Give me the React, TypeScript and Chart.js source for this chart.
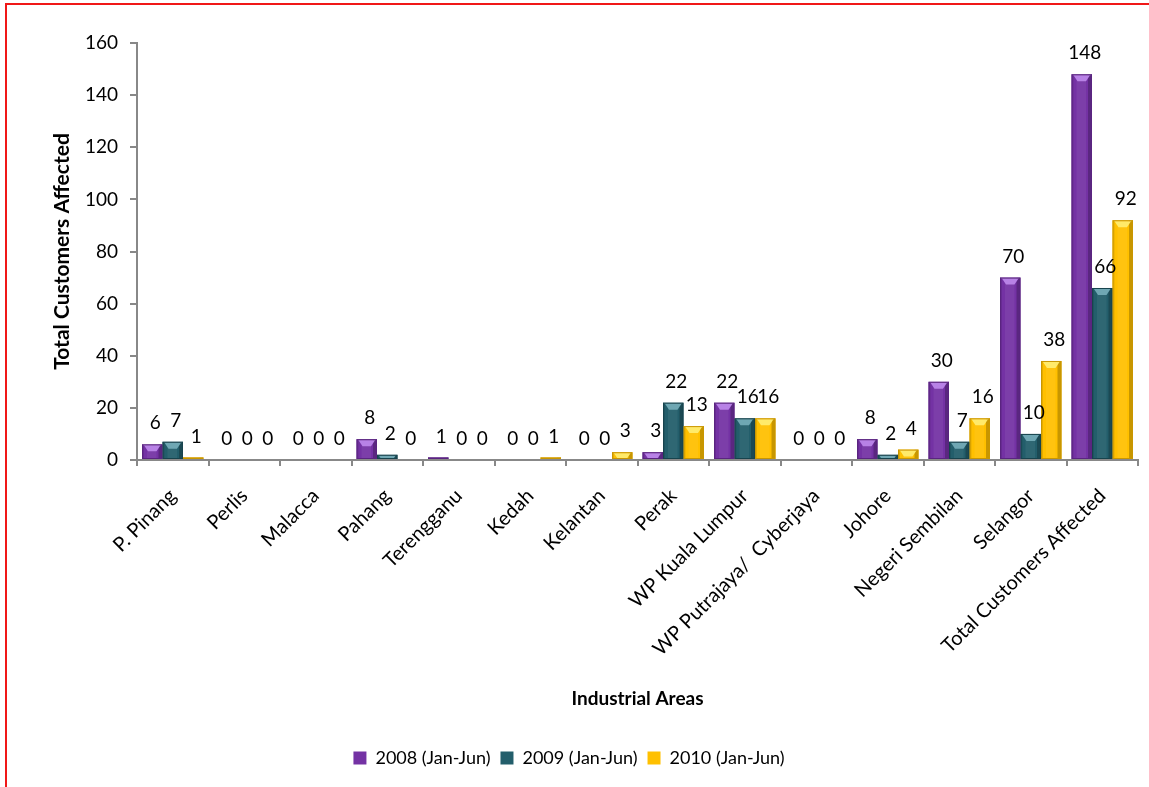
import React, { useEffect, useRef } from "react";
import { Chart, registerables } from "chart.js";

Chart.register(...registerables);

const categories = [
  "P. Pinang",
  "Perlis",
  "Malacca",
  "Pahang",
  "Terengganu",
  "Kedah",
  "Kelantan",
  "Perak",
  "WP Kuala Lumpur",
  "WP Putrajaya/  Cyberjaya",
  "Johore",
  "Negeri Sembilan",
  "Selangor",
  "Total Customers Affected",
];

const seriesNames = ["2008 (Jan-Jun)", "2009 (Jan-Jun)", "2010 (Jan-Jun)"];
const values2008 = [6, 0, 0, 8, 1, 0, 0, 3, 22, 0, 8, 30, 70, 148];
const values2009 = [7, 0, 0, 2, 0, 0, 0, 22, 16, 0, 2, 7, 10, 66];
const values2010 = [1, 0, 0, 0, 0, 1, 3, 13, 16, 0, 4, 16, 38, 92];

const seriesColors = ["#7432A4", "#235E6B", "#FFC000"];
const seriesLight = ["#B882E6", "#6FA7B3", "#FFEA6A"];
const seriesDark = ["#5A2480", "#17434D", "#C99600"];

const yMin = 0;
const yMax = 160;
const yStep = 20;

const FONT = "Lato, 'Open Sans', sans-serif";

const bevelPlugin = {
  id: "bevel",
  afterDatasetsDraw(chart: any) {
    const ctx = chart.ctx;
    chart.data.datasets.forEach((ds: any, di: number) => {
      const meta = chart.getDatasetMeta(di);
      meta.data.forEach((el: any) => {
        const { x, y, base, width } = el.getProps(["x", "y", "base", "width"], true);
        const left = x - width / 2;
        const right = x + width / 2;
        const top = Math.min(y, base);
        const h = Math.abs(base - y);
        if (h < 0.5) return;
        ctx.save();
        ctx.beginPath();
        ctx.rect(left, top, width, h);
        ctx.clip();
        ctx.fillStyle = "rgba(0,0,0,0.22)";
        ctx.fillRect(right - 4, top, 4, h);
        ctx.fillStyle = "rgba(0,0,0,0.10)";
        ctx.fillRect(left, top, 2, h);
        ctx.fillStyle = "rgba(255,255,255,0.06)";
        ctx.fillRect(left + 5, top, width - 11, h);
        ctx.fillStyle = seriesLight[di];
        ctx.beginPath();
        ctx.moveTo(left + 2, top + 1);
        ctx.lineTo(right - 2, top + 1);
        ctx.lineTo(right - 6, top + 7);
        ctx.lineTo(left + 6, top + 7);
        ctx.closePath();
        ctx.fill();
        ctx.fillStyle = "rgba(255,255,255,0.35)";
        ctx.fillRect(left + 1, top, width - 2, 1);
        ctx.restore();
        ctx.save();
        ctx.strokeStyle = seriesDark[di];
        ctx.lineWidth = 1;
        ctx.strokeRect(left + 0.5, top + 0.5, width - 1, Math.max(h - 1, 0));
        ctx.restore();
      });
    });
  },
};

const labelPlugin = {
  id: "valueLabels",
  afterDatasetsDraw(chart: any) {
    const ctx = chart.ctx;
    ctx.save();
    ctx.font = `19px ${FONT}`;
    ctx.fillStyle = "#000";
    ctx.textAlign = "center";
    ctx.textBaseline = "middle";
    chart.data.datasets.forEach((ds: any, di: number) => {
      const meta = chart.getDatasetMeta(di);
      meta.data.forEach((el: any, i: number) => {
        const { x, y } = el.getProps(["x", "y"], true);
        ctx.fillText(String(ds.data[i]), x + 3, y - 21);
      });
    });
    ctx.restore();
  },
};

export default function App() {
  const canvasRef = useRef<HTMLCanvasElement | null>(null);

  useEffect(() => {
    if (!canvasRef.current) return;
    Chart.defaults.font.family = FONT;
    Chart.defaults.color = "#000";
    const allValues = [values2008, values2009, values2010];
    const chart = new Chart(canvasRef.current, {
      type: "bar",
      data: {
        labels: categories,
        datasets: seriesNames.map((name, i) => ({
          label: name,
          data: allValues[i],
          backgroundColor: seriesColors[i],
          borderColor: seriesDark[i],
          borderWidth: 0,
          categoryPercentage: 0.86,
          barPercentage: 1.0,
        })),
      },
      options: {
        responsive: false,
        animation: false,
        devicePixelRatio: 1,
        layout: { padding: { top: 43, right: 11, bottom: 10, left: 0 } },
        plugins: {
          legend: {
            position: "bottom",
            labels: {
              boxWidth: 13,
              boxHeight: 13,
              padding: 10,
              color: "#000",
              font: { size: 18, family: FONT },
            },
          },
          tooltip: { enabled: false },
        },
        scales: {
          x: {
            afterFit: (scale: any) => {
              scale.height = 279;
            },
            grid: {
              display: true,
              offset: true,
              drawOnChartArea: false,
              drawTicks: true,
              tickLength: 6,
              color: "#888888",
              lineWidth: 2,
            },
            border: { color: "#888888", width: 2 },
            ticks: {
              maxRotation: 45,
              minRotation: 45,
              autoSkip: false,
              padding: 18,
              color: "#000",
              font: { size: 20, family: FONT },
            },
            title: {
              display: true,
              text: "Industrial Areas",
              color: "#000",
              font: { size: 19, weight: "bold", family: FONT },
              padding: { top: 4, bottom: 29 },
            },
          },
          y: {
            min: yMin,
            max: yMax,
            afterFit: (scale: any) => {
              scale.width = 137;
            },
            grid: {
              display: true,
              drawOnChartArea: false,
              drawTicks: true,
              tickLength: 7,
              color: "#888888",
              lineWidth: 2,
            },
            border: { color: "#888888", width: 2 },
            ticks: {
              stepSize: yStep,
              padding: 12,
              color: "#000",
              font: { size: 19, family: FONT },
            },
            title: {
              display: true,
              text: "Total Customers Affected",
              color: "#000",
              font: { size: 21, weight: "bold", family: FONT },
              padding: { top: 50, bottom: 4 },
            },
          },
        },
      },
      plugins: [bevelPlugin, labelPlugin],
    });
    return () => chart.destroy();
  }, []);

  return (
    <div
      style={{
        position: "fixed",
        left: 0,
        top: 0,
        width: 1149,
        height: 787,
        background: "#fff",
        overflow: "hidden",
      }}
    >
      <canvas ref={canvasRef} width={1149} height={787} style={{ width: 1149, height: 787, display: "block" }} />
      <div
        style={{
          position: "absolute",
          left: 5,
          top: 3,
          width: 1200,
          height: 900,
          borderTop: "2px solid #f01818",
          borderLeft: "2px solid #f01818",
          pointerEvents: "none",
        }}
      />
    </div>
  );
}
